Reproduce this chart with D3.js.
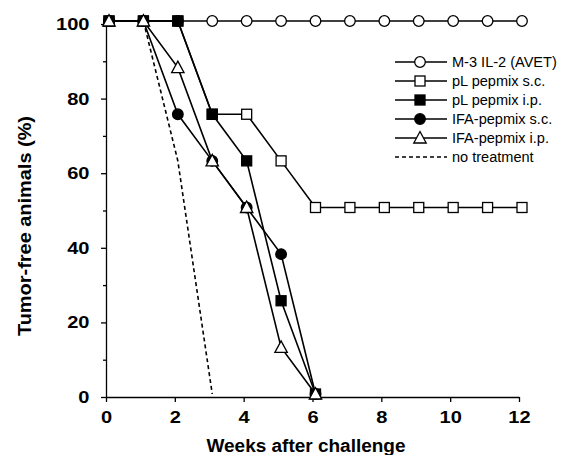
<!DOCTYPE html>
<html>
<head>
<meta charset="utf-8">
<script src="https://cdn.jsdelivr.net/npm/d3@7"></script>
<style>
  body { margin: 0; background: #fff; }
  svg { display: block; font-family: "Liberation Sans", Arial, sans-serif; }
  .axis path, .axis line { stroke: #000; stroke-width: 1.3; }
  .axis text { font-weight: bold; font-size: 17px; fill: #000; }
</style>
</head>
<body>
<div id="chart"></div>
<script>
// weeks after challenge
var weeks = [0, 1, 2, 3, 4, 5, 6, 7, 8, 9, 10, 11, 12];

// tumor-free animals (%) per group (groups of 8 mice)
var m3il2     = [100, 100, 100, 100, 100, 100, 100, 100, 100, 100, 100, 100, 100];
var plPepSc   = [100, 100, 100, 75, 75, 62.5, 50, 50, 50, 50, 50, 50, 50];
var plPepIp   = [100, 100, 100, 75, 62.5, 25, 0];
var ifaPepSc  = [100, 100, 75, 62.5, 50, 37.5, 0];
var ifaPepIp  = [100, 100, 87.5, 62.5, 50, 12.5, 0];
var noTreat   = [100, 100, 62.5, 0];

var seriesNames = ['M-3 IL-2 (AVET)', 'pL pepmix s.c.', 'pL pepmix i.p.',
                   'IFA-pepmix s.c.', 'IFA-pepmix i.p.', 'no treatment'];
var xTicks = [0, 2, 4, 6, 8, 10, 12];
var yTicks = [0, 20, 40, 60, 80, 100];
var yMinor = [10, 30, 50, 70, 90];

var series = [
    {name: seriesNames[0], values: m3il2,    marker: 'circle',   fill: '#fff', z: 0},
    {name: seriesNames[1], values: plPepSc,  marker: 'square',   fill: '#fff', z: 1},
    {name: seriesNames[2], values: plPepIp,  marker: 'square',   fill: '#000', z: 3},
    {name: seriesNames[3], values: ifaPepSc, marker: 'circle',   fill: '#000', z: 2},
    {name: seriesNames[4], values: ifaPepIp, marker: 'triangle', fill: '#fff', z: 4},
    {name: seriesNames[5], values: noTreat,  marker: null,       dashed: true, z: -1}
];

var svg = d3.select('#chart').append('svg')
    .attr('width', 563)
    .attr('height', 455);

var margin = {top: 24, right: 44, bottom: 58, left: 106},
    width = 563 - margin.left - margin.right,
    height = 455 - margin.top - margin.bottom,
    g = svg.append('g')
        .attr('transform', 'translate(' + margin.left + ',' + margin.top + ')');

var xScale = d3.scaleLinear().domain([0, 12]).range([0, width]);
var yScale = d3.scaleLinear().domain([0, 100]).range([height, 0]);

// axes
var xAxisG = g.append('g')
    .attr('class', 'axis axis--x')
    .attr('transform', 'translate(0,' + height + ')')
    .call(d3.axisBottom(xScale).tickValues(xTicks).tickSize(5).tickSizeOuter(0).tickPadding(9));

var yAxisG = g.append('g')
    .attr('class', 'axis axis--y')
    .call(d3.axisLeft(yScale).tickValues(yTicks).tickSize(5).tickSizeOuter(0).tickPadding(9));

// the scanned lettering is a bit wider than Liberation Sans
xAxisG.selectAll('.tick text').attr('transform', 'scale(1.18,1)');
yAxisG.selectAll('.tick text').attr('transform', 'scale(1.18,1)');

// minor ticks on y
g.append('g')
    .attr('class', 'axis axis--y-minor')
    .call(d3.axisLeft(yScale).tickValues(yMinor).tickSize(3).tickFormat(''))
    .select('.domain').remove();

// axis titles
svg.append('text')
    .attr('x', 306)
    .attr('y', 452)
    .attr('text-anchor', 'middle')
    .attr('textLength', 199)
    .attr('lengthAdjust', 'spacingAndGlyphs')
    .style('font-weight', 'bold')
    .style('font-size', '18px')
    .text('Weeks after challenge');

svg.append('text')
    .attr('transform', 'translate(31,226) rotate(-90)')
    .attr('text-anchor', 'middle')
    .attr('textLength', 220)
    .attr('lengthAdjust', 'spacingAndGlyphs')
    .style('font-weight', 'bold')
    .style('font-size', '18px')
    .text('Tumor-free animals (%)');

var line = d3.line()
    .x(function(d, i) { return xScale(weeks[i]); })
    .y(function(d) { return yScale(d); });

var drawMarker = function(sel, type, fill) {
    if (type === 'circle') {
        sel.append('circle').attr('r', 5.3);
    } else if (type === 'square') {
        sel.append('rect').attr('x', -5).attr('y', -5).attr('width', 10).attr('height', 10);
    } else if (type === 'triangle') {
        sel.append('path').attr('d', 'M0,-6.5L6.2,5L-6.2,5Z');
    }
    sel.selectAll('circle,rect,path')
        .attr('fill', fill)
        .attr('stroke', '#000')
        .attr('stroke-width', 1.3);
};

// data sits a few pixels right of / above the axis grid in the scan
var plot = g.append('g').attr('transform', 'translate(3,-3)');
var ordered = series.slice().sort(function(a, b) { return a.z - b.z; });

ordered.forEach(function(s) {
    plot.append('path')
        .datum(s.values)
        .attr('fill', 'none')
        .attr('stroke', '#000')
        .attr('stroke-width', 1.6)
        .attr('stroke-dasharray', s.dashed ? '4,3' : null)
        .attr('d', line);
});

ordered.forEach(function(s) {
    if (!s.marker) return;
    plot.selectAll(null)
        .data(s.values)
        .enter().append('g')
            .attr('transform', function(d, i) {
                return 'translate(' + xScale(weeks[i]) + ',' + yScale(d) + ')';
            })
            .each(function() { drawMarker(d3.select(this), s.marker, s.fill); });
});

// legend
var legend = svg.append('g').attr('transform', 'translate(395,62)');
series.forEach(function(s, i) {
    var row = legend.append('g').attr('transform', 'translate(0,' + (i * 19) + ')');
    row.append('line')
        .attr('x1', 0).attr('x2', 52)
        .attr('stroke', '#000')
        .attr('stroke-width', 1.6)
        .attr('stroke-dasharray', s.dashed ? '4,3' : null);
    if (s.marker) {
        var m = row.append('g').attr('transform', 'translate(25,0)');
        drawMarker(m, s.marker, s.fill);
    }
    row.append('text')
        .attr('transform', 'translate(57,5) scale(1.04,1)')
        .style('font-size', '14px')
        .text(s.name);
});
</script>
</body>
</html>
